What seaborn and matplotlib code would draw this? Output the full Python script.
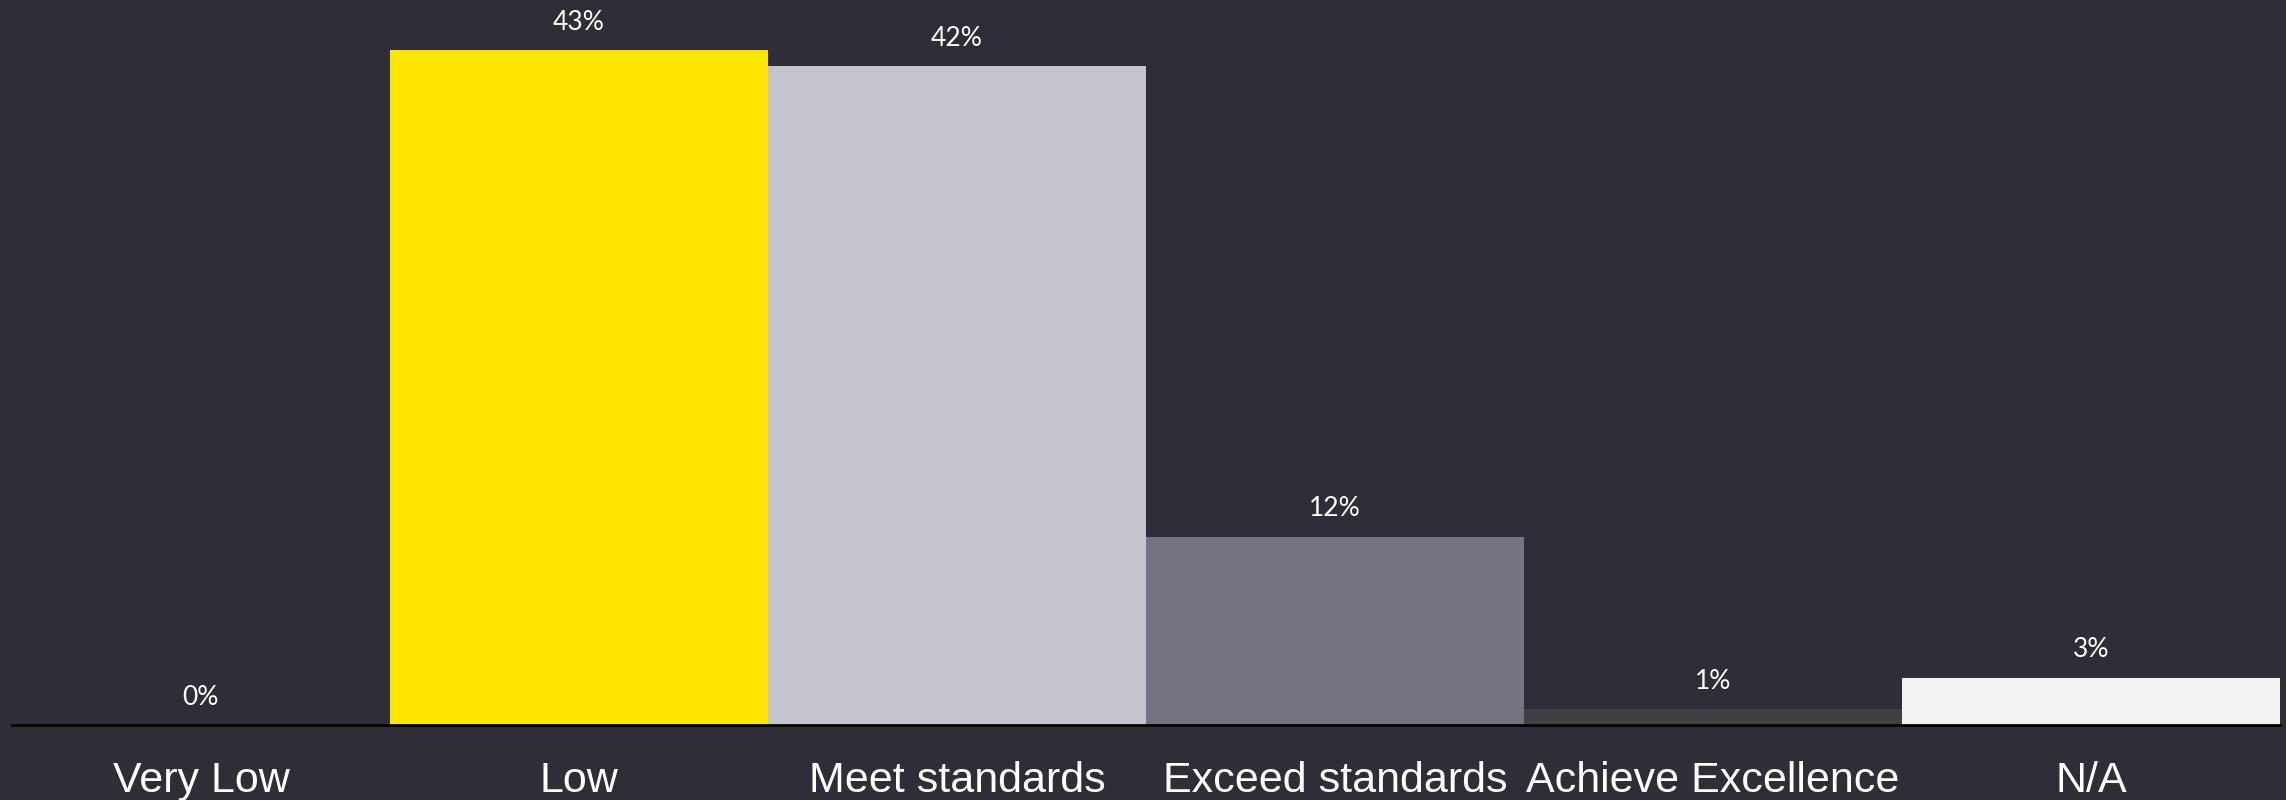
import matplotlib
matplotlib.use('Agg')
import matplotlib.pyplot as plt
import seaborn as sns
import pandas as pd

# data
categories = ['Very Low', 'Low', 'Meet standards', 'Exceed standards', 'Achieve Excellence', 'N/A']
values = [0, 43, 42, 12, 1, 3]
bar_colors = ['#2E2E38', '#FFE600', '#C4C4CD', '#747480', '#404040', '#F2F2F2']

bg = '#2E2E38'

df = pd.DataFrame({'category': categories, 'pct': values})

sns.set_style('white')
fig = plt.figure(figsize=(22.86, 8), dpi=100, facecolor=bg)
ax = fig.add_axes([0.0052, 0.094, 0.9922, 0.906])
ax.set_facecolor(bg)

sns.barplot(data=df, x='category', y='pct', hue='category', palette=bar_colors,
            width=1.0, legend=False, ax=ax, saturation=1, dodge=False, linewidth=0)

for c in ax.containers:
    ax.bar_label(c, labels=[f'{v:.0f}%' for v in c.datavalues], padding=11,
                 color='white', fontsize=19, family=['Lato', 'DejaVu Sans'])

ax.set_ylim(0, 46.2)
ax.set_xlim(-0.5, len(categories) - 0.5)
ax.set_xlabel('')
ax.set_ylabel('')
ax.set_yticks([])
ax.tick_params(axis='x', length=0, pad=26, colors='white')
for lab in ax.get_xticklabels():
    lab.set_fontsize(31)
    lab.set_family(['Liberation Sans', 'DejaVu Sans'])
    lab.set_color('white')

for s in ['top', 'right', 'left']:
    ax.spines[s].set_visible(False)
ax.spines['bottom'].set_color('black')
ax.spines['bottom'].set_linewidth(2)

fig.savefig('out.png', dpi=100, facecolor=bg)
